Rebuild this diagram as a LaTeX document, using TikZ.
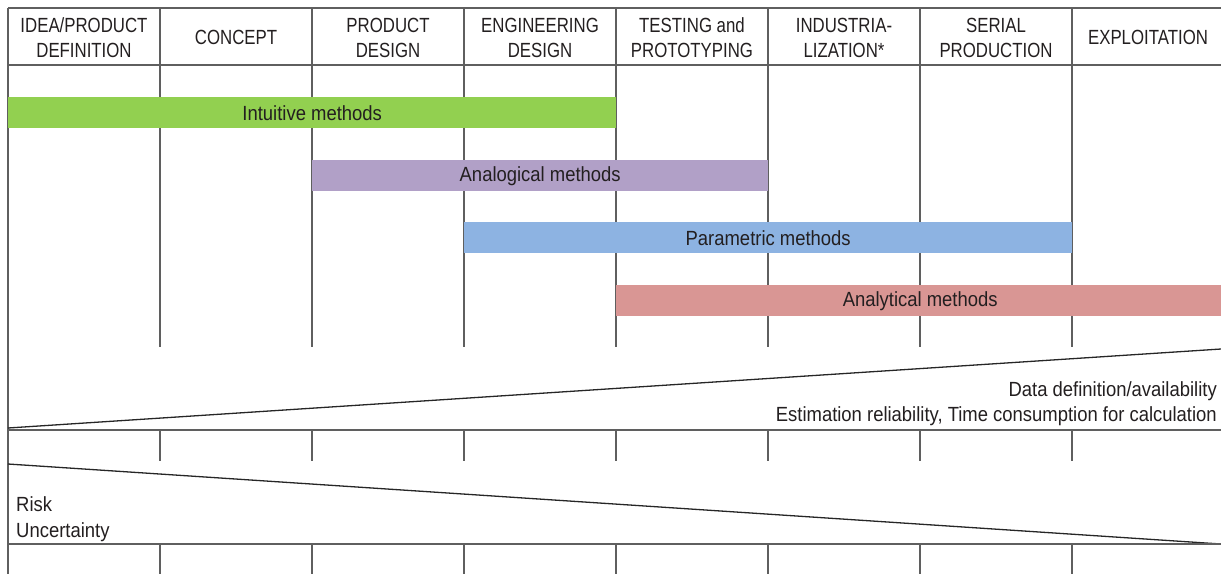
\documentclass[tikz,border=0pt]{standalone}
\usepackage{fontspec}
\setmainfont{Liberation Sans}[FakeStretch=0.9]
\newfontfamily\phasefont{Liberation Sans}[FakeStretch=0.82]
\definecolor{linegray}{RGB}{95,95,95}
\definecolor{textgray}{RGB}{35,31,32}
\definecolor{intuitivefill}{RGB}{146,208,80}
\definecolor{analogfill}{RGB}{177,160,199}
\definecolor{paramfill}{RGB}{141,179,226}
\definecolor{analytfill}{RGB}{217,150,148}

\begin{document}
\begin{tikzpicture}[x=1pt,y=-1pt,
  grid/.style={draw=linegray,line width=1.3pt},
  slope/.style={draw=black!85,line width=1.3pt},
  txt/.style={inner sep=0pt,text=textgray,font=\fontsize{20.5}{25}\selectfont},
  phase/.style={txt,align=center,font=\phasefont\fontsize{20.5}{25}\selectfont},
  bar/.style={txt,anchor=north west,minimum height=31pt,minimum width=608pt}]
\useasboundingbox (0,0) rectangle (1221,574);

\draw[grid] (8,8) -- (1221,8);
\draw[grid] (8,65) -- (1221,65);
\draw[grid] (8,8) -- (8,574);
\foreach \x in {160,312,...,1072}
  \draw[grid] (\x,8) -- (\x,347);

\node[phase] (idea) at (84,37.5) {IDEA/PRODUCT\\DEFINITION};
\node[phase] (concept) at (236,37.5) {CONCEPT};
\node[phase] (prod) at (388,37.5) {PRODUCT\\DESIGN};
\node[phase] (eng) at (540,37.5) {ENGINEERING\\DESIGN};
\node[phase] (test) at (692,37.5) {TESTING and\\PROTOTYPING};
\node[phase] (indus) at (844,37.5) {INDUSTRIA-\\LIZATION*};
\node[phase] (serial) at (996,37.5) {SERIAL\\PRODUCTION};
\node[phase] (exploit) at (1148,37.5) {EXPLOITATION};

\node[bar,fill=intuitivefill] (intuitive) at (8,97) {Intuitive methods};
\node[bar,fill=analogfill,minimum width=456pt] (analog) at (312,160) {Analogical methods};
\node[bar,fill=paramfill] (param) at (464,222) {Parametric methods};
\node[bar,fill=analytfill] (analyt) at (616,285) {Analytical methods};

\draw[slope] (8,428) -- (1221,349);
\draw[grid] (8,430) -- (1221,430);
\foreach \x in {160,312,...,1072}
  \draw[grid] (\x,430) -- (\x,461);
\node[txt,anchor=base east] (data) at (1217,396) {Data definition/availability};
\node[txt,anchor=base east] (estim) at (1217,421) {Estimation reliability, Time consumption for calculation};

\draw[slope] (8,464) -- (1221,544);
\draw[grid] (8,544) -- (1221,544);
\foreach \x in {160,312,...,1072}
  \draw[grid] (\x,544) -- (\x,574);
\node[txt,anchor=base west] (risk) at (16,511) {Risk};
\node[txt,anchor=base west] (uncert) at (16,537) {Uncertainty};

\end{tikzpicture}
\end{document}
